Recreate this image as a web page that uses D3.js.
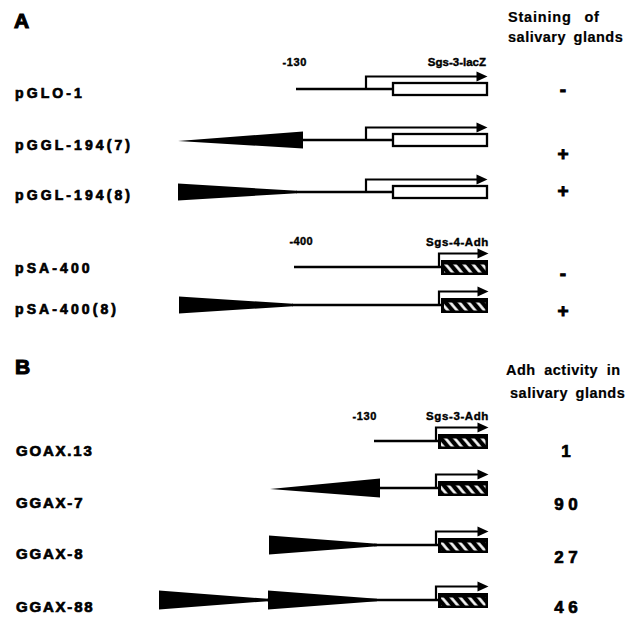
<!DOCTYPE html>
<html><head><meta charset="utf-8">
<script src="https://cdn.jsdelivr.net/npm/d3@7/dist/d3.min.js"></script>
<style>html,body{margin:0;padding:0;background:#fff;}svg{display:block;}</style>
</head><body>
<svg id="chart" width="639" height="618"></svg>
<script>
// ---------------- DATA ----------------
// Panel A
const constructsA = ["pGLO-1", "pGGL-194(7)", "pGGL-194(8)", "pSA-400", "pSA-400(8)"];
const stainingA   = ["-", "+", "+", "-", "+"];
const reporterA   = ["lacZ", "lacZ", "lacZ", "Adh", "Adh"];
// positions in schematic map units (0..34)
const promoterA   = [14.7, 14.7, 14.7, 14.5, 14.5];   // -130 / -400 end of promoter
const tssA        = [21.6, 21.6, 21.6, 28.9, 28.9];   // transcription start (arrow)
const boxA        = [[24.3, 33.7], [24.3, 33.7], [24.3, 33.7], [29.1, 33.8], [29.1, 33.8]];
// enhancer fragments: [from, to, wide end]
const enhancersA  = [[], [[2.8, 15.3, "right"]], [[2.8, 14.7, "left"]], [], [[2.9, 14.3, "left"]]];

// Panel B
const constructsB = ["GOAX.13", "GGAX-7", "GGAX-8", "GGAX-88"];
const adhActivityB = [1, 90, 27, 46];
const promoterB   = [22.5, 22.5, 22.5, 22.5];
const tssB        = [28.6, 28.6, 28.6, 28.6];
const boxB        = [[28.8, 33.8], [28.8, 33.8], [28.8, 33.8], [28.8, 33.8]];
const enhancersB  = [[], [[12.0, 23.0, "right"]], [[11.9, 22.7, "left"]], [[0.9, 11.8, "left"], [11.8, 22.7, "left"]]];

// text
const promoterLabelsA = [["-130", "Sgs-3-lacZ"], ["-400", "Sgs-4-Adh"]];
const promoterLabelsB = ["-130", "Sgs-3-Adh"];
const headerA = ["Staining of", "salivary glands"];
const headerB = ["Adh activity in", "salivary glands"];

// ---------------- LAYOUT ----------------
const rowLineA  = [89, 140, 192, 267, 305];
const labelYA   = [98, 150, 200, 273, 314];
const stainYA   = [89, 153, 190, 273, 310];
const rowLineB  = [441, 488, 545, 600];
const labelYB   = [456, 508, 559, 612];
const valueYB   = [450, 503, 556, 606];

const svg = d3.select("#chart");
const x = d3.scaleLinear().domain([0, 34]).range([150, 490]);
const FONT = "'Liberation Sans', Arial, Helvetica, sans-serif";

const defs = svg.append("defs");
const PW = 7;
const pat = defs.append("pattern").attr("id", "hatch")
  .attr("patternUnits", "userSpaceOnUse").attr("width", PW).attr("height", PW)
  .attr("patternTransform", "rotate(-40)");
pat.append("rect").attr("width", PW).attr("height", PW).attr("fill", "#000");
pat.append("line").attr("x1", PW / 2).attr("x2", PW / 2).attr("y1", 0).attr("y2", PW)
  .attr("stroke", "#fff").attr("stroke-width", 2.6);

function text(g, str, xx, yy, o) {
  const t = g.append("text").attr("x", xx).attr("y", yy).text(str)
    .attr("font-family", FONT).attr("font-weight", "bold")
    .attr("font-size", o.size).attr("fill", "#000");
  if (o.anchor) t.attr("text-anchor", o.anchor);
  if (o.ls != null) t.attr("letter-spacing", o.ls);
  if (o.ws != null) t.attr("word-spacing", o.ws);
  if (o.stroke) t.attr("stroke", "#000").attr("stroke-width", o.stroke);
  return t;
}

function drawConstruct(g, y, promoter, tss, box, reporter, enhancers, triH) {
  let lineStart = promoter;
  enhancers.forEach(([a, b, wide]) => {
    const xa = x(a), xb = x(b), h = triH / 2;
    lineStart = Math.min(lineStart, b);
    const pts = wide === "right"
      ? [[xa, y + 1], [xb, y - h], [xb, y + h]]
      : [[xa, y - h], [xa, y + h], [xb, y + 1.2], [xb, y - 1.2]];
    g.append("polygon").attr("points", pts.map(p => p.join(",")).join(" ")).attr("fill", "#000");
  });
  g.append("line").attr("x1", x(lineStart) - 1).attr("x2", x(box[0])).attr("y1", y).attr("y2", y)
    .attr("stroke", "#000").attr("stroke-width", 2.3);
  const bx = x(box[0]), bw = x(box[1]) - x(box[0]);
  let ay;
  if (reporter === "lacZ") {
    g.append("rect").attr("x", bx).attr("y", y - 6).attr("width", bw).attr("height", 12)
      .attr("fill", "#fff").attr("stroke", "#000").attr("stroke-width", 2.3);
    ay = y - 12.5;
  } else {
    const top = y - 7, h = 15;
    g.append("rect").attr("x", bx).attr("y", top).attr("width", bw).attr("height", h).attr("fill", "#000");
    g.append("rect").attr("x", bx + 3).attr("y", top + 4.5).attr("width", bw - 5.5).attr("height", h - 7)
      .attr("fill", "url(#hatch)");
    ay = y - 13.5;
  }
  g.append("path").attr("d", `M${x(tss)},${y} V${ay} H${x(box[1]) - 9}`)
    .attr("fill", "none").attr("stroke", "#000").attr("stroke-width", 2.2);
  const tip = x(box[1]) + 0.5;
  g.append("polygon")
    .attr("points", `${tip - 11},${ay - 5} ${tip},${ay} ${tip - 11},${ay + 5}`)
    .attr("fill", "#000");
}

// ---------- Panel A ----------
const gA = svg.append("g");
text(gA, "A", 14, 28, {size: 21, stroke: 1.1});
text(gA, headerA[0], 508, 22, {size: 14.5, ls: 0.8, ws: 8, stroke: 0.2});
text(gA, headerA[1], 508, 42, {size: 14.5, ls: 0.5, ws: 3, stroke: 0.2});
text(gA, promoterLabelsA[0][0], 307, 66, {size: 11, anchor: "end", ls: 0.6, stroke: 0.4});
text(gA, promoterLabelsA[0][1], 486, 66, {size: 11.5, anchor: "end", stroke: 0.4});
text(gA, promoterLabelsA[1][0], 313, 245, {size: 11, anchor: "end", ls: 0.4, stroke: 0.4});
text(gA, promoterLabelsA[1][1], 489, 246, {size: 11.5, anchor: "end", ls: 0.6, stroke: 0.4});

constructsA.forEach((name, i) => {
  text(gA, name, 15, labelYA[i], {size: 14, ls: 3.1, stroke: 0.7});
  drawConstruct(gA, rowLineA[i], promoterA[i], tssA[i], boxA[i], reporterA[i], enhancersA[i], 17);
  text(gA, stainingA[i], 563, stainYA[i] + 6.5, {size: 19, anchor: "middle", stroke: 0.9});
});

// ---------- Panel B ----------
const gB = svg.append("g");
text(gB, "B", 15, 374, {size: 21, stroke: 1.1});
text(gB, headerB[0], 506, 375, {size: 14.5, ls: 0.5, ws: 4, stroke: 0.2});
text(gB, headerB[1], 510, 398, {size: 14.5, ls: 0.5, ws: 3, stroke: 0.2});
text(gB, promoterLabelsB[0], 377, 420, {size: 11, anchor: "end", ls: 0.6, stroke: 0.4});
text(gB, promoterLabelsB[1], 489, 420, {size: 11.5, anchor: "end", ls: 0.6, stroke: 0.4});

constructsB.forEach((name, i) => {
  text(gB, name, 16, labelYB[i], {size: 15, ls: 1.8, stroke: 0.7});
  drawConstruct(gB, rowLineB[i], promoterB[i], tssB[i], boxB[i], "Adh", enhancersB[i], 19);
  text(gB, String(adhActivityB[i]).split("").join(" "), 566, valueYB[i] + 6.5, {size: 17, anchor: "middle", stroke: 0.7});
});
</script>
</body></html>
